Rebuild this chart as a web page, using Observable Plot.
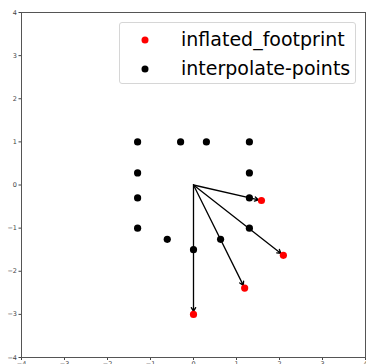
<!DOCTYPE html>
<html><head><meta charset="utf-8">
<script src="https://cdn.jsdelivr.net/npm/d3@7"></script>
<script src="https://cdn.jsdelivr.net/npm/@observablehq/plot@0.6"></script>
<style>
html,body{margin:0;padding:0;background:#fff;}
#wrap{position:relative;width:366px;height:364px;overflow:hidden;}
#legend{position:absolute;left:119px;top:22px;width:235px;height:60px;border:1px solid #d6d6d6;border-radius:3px;background:rgba(255,255,255,0.8);font-family:"DejaVu Sans";font-size:19px;color:#000;}
.sw{position:absolute;width:7px;height:7px;border-radius:50%;transform:translate(-50%,-50%);}
.lab{position:absolute;left:61px;white-space:nowrap;line-height:1;transform:translateY(-55%);}
</style>
</head><body>
<div id="wrap"><div id="chart"></div><div id="legend"></div></div>
<script>
const seriesNames = ["inflated_footprint", "interpolate-points"];
const seriesColors = ["#ff0000", "#000000"];
const interpX = [-1.3, -0.3, 0.3, 1.3, -1.3, 1.3, -1.3, 1.3, -1.3, 1.3, -0.61, 0, 0.63];
const interpY = [1, 1, 1, 1, 0.28, 0.28, -0.3, -0.3, -1, -1, -1.26, -1.5, -1.26];
const footX = [1.58, 2.09, 1.19, 0];
const footY = [-0.36, -1.63, -2.39, -3.0];
const origin = [0, 0];
const tickValues = [-4, -3, -2, -1, 0, 1, 2, 3, 4];

const interp = interpX.map((x, i) => ({x, y: interpY[i]}));
const foot = footX.map((x, i) => ({x, y: footY[i]}));

const chart = Plot.plot({
  width: 366,
  height: 364,
  marginLeft: 21,
  marginRight: 1,
  marginTop: 12,
  marginBottom: 7,
  style: {fontFamily: "DejaVu Sans", fontSize: "6.5px", color: "#444", background: "#fff"},
  x: {domain: [-4, 4]},
  y: {domain: [-4, 4]},
  marks: [
    Plot.axisX({ticks: tickValues, tickSize: 3, tickPadding: 1, label: null, stroke: "#444"}),
    Plot.axisY({ticks: tickValues, tickSize: 2.5, tickPadding: 2, label: null, stroke: "#444"}),
    Plot.dot(interp, {x: "x", y: "y", r: 3.6, fill: seriesColors[1], stroke: "none"}),
    Plot.arrow(foot, {x1: () => origin[0], y1: () => origin[1], x2: "x", y2: "y",
      stroke: "#000", strokeWidth: 1.3, headLength: 5, insetEnd: 3}),
    Plot.dot(foot, {x: "x", y: "y", r: 3.6, fill: seriesColors[0], stroke: "none"}),
    Plot.frame({stroke: "#555", strokeWidth: 1})
  ]
});
document.getElementById("chart").appendChild(chart);

const legend = document.getElementById("legend");
const rowY = [17, 45.5];
seriesNames.forEach((name, i) => {
  const sw = document.createElement("div");
  sw.className = "sw";
  sw.style.left = "25px";
  sw.style.top = rowY[i] + "px";
  sw.style.background = seriesColors[i];
  legend.appendChild(sw);
  const lab = document.createElement("div");
  lab.className = "lab";
  lab.style.top = rowY[i] + "px";
  lab.textContent = name;
  legend.appendChild(lab);
});
</script>
</body></html>
